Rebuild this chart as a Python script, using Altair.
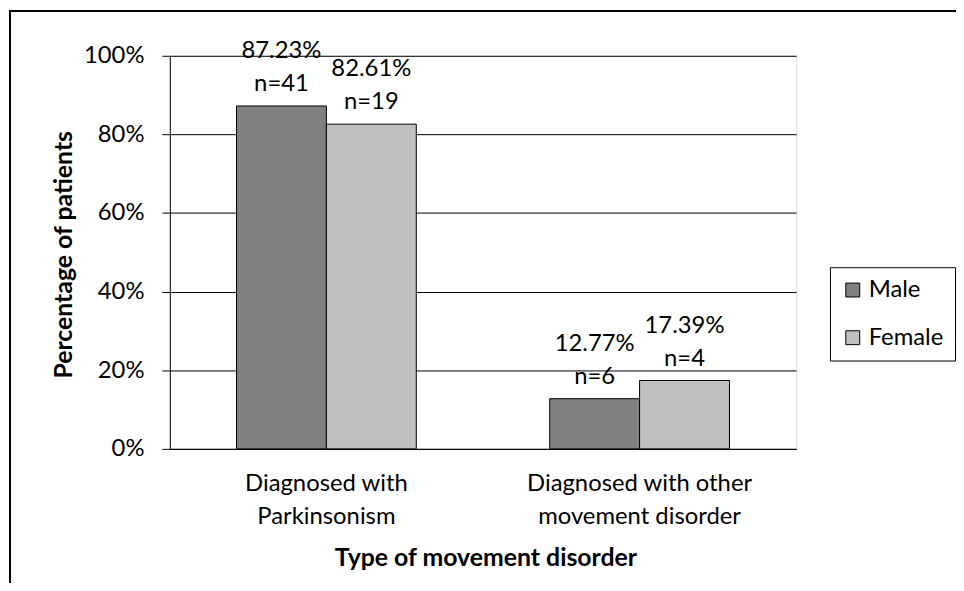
import altair as alt
import pandas as pd

# ---- data ----
categories = ["Diagnosed with|Parkinsonism", "Diagnosed with other|movement disorder"]
sexes = ["Male", "Female"]
male_pct = [87.23, 12.77]
female_pct = [82.61, 17.39]
male_n = [41, 6]
female_n = [19, 4]
y_ticks = [0, 0.2, 0.4, 0.6, 0.8, 1.0]
colors = ["#808080", "#C0C0C0"]

rows = []
for i, c in enumerate(categories):
    for s, pcts, ns in (("Male", male_pct, male_n), ("Female", female_pct, female_n)):
        rows.append({
            "category": c,
            "sex": s,
            "value": pcts[i] / 100.0,
            "label": f"{pcts[i]:.2f}%\nn={ns[i]}",
        })
df = pd.DataFrame(rows)

FONT = "Lato"
FS = 24
TFS = 25

x_enc = alt.X(
    "category:N",
    sort=categories,
    scale=alt.Scale(paddingInner=0.426, paddingOuter=0.213),
    axis=alt.Axis(
        title="Type of movement disorder",
        labelExpr="split(datum.label, '|')",
        labelAngle=0,
        labelFontSize=FS,
        labelFont=FONT,
        labelColor="black",
        labelLineHeight=33,
        labelPadding=23,
        labelBaseline="top",
        labelLimit=0,
        ticks=False,
        tickSize=0,
        domainColor="black",
        domainWidth=1,
        titleFont=FONT,
        titleFontSize=TFS,
        titleFontWeight="bold",
        titleColor="black",
        titleX=318,
        titleY=110,
        titleBaseline="middle",
        titleAlign="center",
    ),
)
xoff_enc = alt.XOffset("sex:N", sort=sexes, scale=alt.Scale(paddingInner=0, paddingOuter=0))

y_enc = alt.Y(
    "value:Q",
    scale=alt.Scale(domain=[0, 1], nice=False),
    axis=alt.Axis(
        title="Percentage of patients",
        values=y_ticks,
        format=".0%",
        grid=True,
        gridColor="black",
        gridWidth=1,
        gridOpacity=1,
        domainColor="black",
        domainWidth=1,
        tickColor="black",
        tickSize=8,
        tickWidth=1,
        labelFont=FONT,
        labelFontSize=FS,
        labelColor="black",
        labelPadding=18,
        titleFont=FONT,
        titleFontSize=TFS,
        titleFontWeight="bold",
        titleColor="black",
        titleAngle=270,
        titleX=-107,
        titleY=200,
        titleBaseline="middle",
        titleAlign="center",
    ),
)

color_enc = alt.Color(
    "sex:N",
    sort=sexes,
    scale=alt.Scale(domain=sexes, range=colors),
    legend=alt.Legend(
        title=None,
        orient="none",
        legendX=665,
        legendY=213,
        strokeColor="black",
        padding=11,
        symbolType="square",
        symbolSize=196,
        symbolStrokeColor="black",
        symbolStrokeWidth=1,
        labelFont=FONT,
        labelFontSize=FS,
        labelColor="black",
        labelOffset=4,
        labelLimit=0,
        rowPadding=24,
    ),
)

bars = alt.Chart(df).mark_bar(stroke="black", strokeWidth=1, opacity=1).encode(
    x=x_enc, xOffset=xoff_enc, y=y_enc, color=color_enc
)

labels = alt.Chart(df).mark_text(
    font=FONT, fontSize=FS, color="black", align="center", baseline="middle",
    lineBreak="\n", lineHeight=33, dy=-55,
).encode(
    x=alt.X("category:N", sort=categories),
    xOffset=alt.XOffset("sex:N", sort=sexes),
    y=alt.Y("value:Q"),
    text="label:N",
)

border_data = alt.Data(values=[{"k": 0}])
top_border = alt.Chart(border_data).mark_rule(color="black", strokeWidth=2).encode(
    x=alt.value(-161), x2=alt.value(800), y=alt.value(-45)
)
left_border = alt.Chart(border_data).mark_rule(color="black", strokeWidth=2).encode(
    x=alt.value(-161), y=alt.value(-46), y2=alt.value(540)
)

chart = (
    alt.layer(bars, labels, top_border, left_border)
    .properties(
        width=631,
        height=396,
        autosize=alt.AutoSizeParams(type="none"),
        padding={"left": 163, "top": 46, "right": 161, "bottom": 133},
        background="white",
    )
    .configure_view(stroke="black", strokeWidth=1)
    .configure(font=FONT)
)

chart.save("out.html", embed_options={"renderer": "svg", "actions": False})
